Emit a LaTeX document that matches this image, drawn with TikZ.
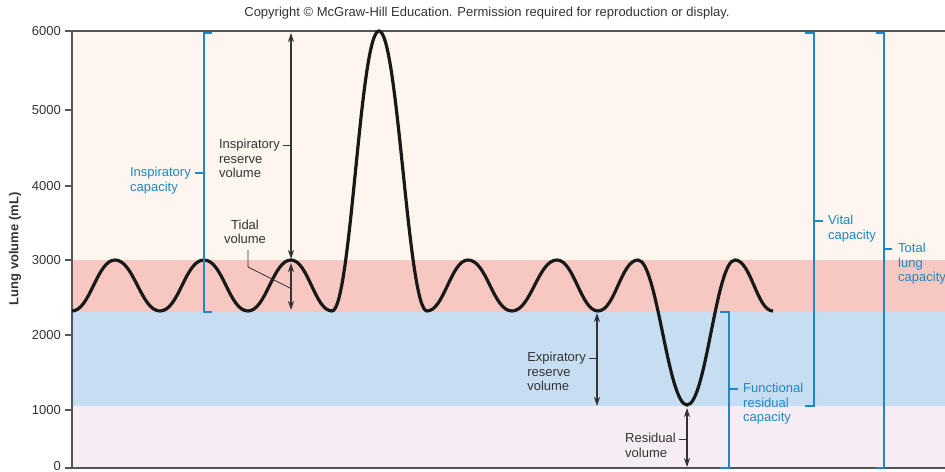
\documentclass[tikz,border=0pt]{standalone}
\usepackage{fontspec}
\setmainfont{Liberation Sans}
\usetikzlibrary{arrows.meta, positioning, calc}
\definecolor{capblue}{HTML}{1D87C7}
\definecolor{labgray}{HTML}{333333}
\definecolor{axisgray}{HTML}{555555}
\definecolor{bandtop}{HTML}{FDF6EE}
\definecolor{bandtidal}{HTML}{F6C8C1}
\definecolor{bandexp}{HTML}{C7DEF2}
\definecolor{bandres}{HTML}{F5EDF3}
\tikzset{bracket/.style={draw=capblue, line width=1.8bp}}

\begin{document}
\begin{tikzpicture}[x=1bp, y=-1bp, font=\fontsize{13bp}{14.5bp}\selectfont,
        curve/.style={line width=3.2bp, draw=black!90},
        axis/.style={draw=axisgray, line width=1.2bp},
        measure/.style={draw=labgray, line width=1.2bp, {Stealth[length=9bp,width=6bp]}-{Stealth[length=9bp,width=6bp]}},
        leader/.style={draw=labgray, line width=0.8bp},
        lab/.style={text=labgray, inner sep=0pt, align=left},
        caplab/.style={text=capblue, inner sep=0pt}]
    \useasboundingbox (0,0) rectangle (945,472);
    \clip (0,0) rectangle (945,472);
    \node[text=labgray, font=\fontsize{13bp}{15bp}\selectfont] (copy) at (487,13)
        {Copyright © McGraw-Hill Education. Permission required for reproduction or display.};
    % bands
    \fill[bandtop] (72,31) rectangle (945,260);
    \fill[bandtidal] (72,260) rectangle (945,312);
    \fill[bandexp] (72,312) rectangle (945,406);
    \fill[bandres] (72,406) rectangle (945,468);
    % axes
    \draw[axis] (945,31) -- (72,31) -- (72,468) -- (945,468);
    \foreach \v/\y in {1000/410, 2000/335, 3000/260, 4000/186, 5000/110, 6000/31} {
        \draw[axis] (65,\y) -- (72,\y);
        \node[text=labgray, anchor=east, inner sep=0pt] (t\v) at (61,\y) {\v};
    }
    \draw[axis] (65,468) -- (72,468);
    \node[text=labgray, anchor=east, inner sep=0pt] (t0) at (61,466) {0};
    \node[rotate=90, font=\fontsize{13bp}{15bp}\selectfont\bfseries, text=labgray] (ylab) at (15,249) {Lung volume (mL)};
    % spirogram
    \draw[curve] (72,311) .. controls +(18,0) and +(-18,0) .. (115,260)
        .. controls +(19,0) and +(-19,0) .. (160,311)
        .. controls +(19,0) and +(-19,0) .. (204,260)
        .. controls +(19,0) and +(-19,0) .. (248,311)
        .. controls +(18,0) and +(-18,0) .. (291,260)
        .. controls +(17,0) and +(-17,0) .. (332,311)
        .. controls +(19,0) and +(-19,0) .. (379,31)
        .. controls +(19,0) and +(-19,0) .. (427,311)
        .. controls +(17,0) and +(-17,0) .. (468,260)
        .. controls +(19,0) and +(-19,0) .. (512,311)
        .. controls +(19,0) and +(-19,0) .. (557,260)
        .. controls +(17,0) and +(-17,0) .. (598,311)
        .. controls +(17,0) and +(-17,0) .. (638,260)
        .. controls +(19,0) and +(-19,0) .. (687,405)
        .. controls +(19,0) and +(-19,0) .. (735,260)
        .. controls +(16,0) and +(-16,0) .. (773,311);
    % volumes
    \coordinate (irvtop) at (291,33);
    \coordinate (irvbot) at (291,259);
    \coordinate (tvtop) at (291,263);
    \coordinate (tvbot) at (291,310);
    \coordinate (ervtop) at (597,313);
    \coordinate (ervbot) at (597,406);
    \coordinate (rvtop) at (687,408);
    \coordinate (rvbot) at (687,467);
    \draw[measure] (irvtop) -- (irvbot);
    \draw[measure] (tvtop) -- (tvbot);
    \draw[measure] (ervtop) -- (ervbot);
    \draw[measure] (rvtop) -- (rvbot);
    \coordinate (irv) at (290,145);
    \coordinate[left=7bp of irv] (irvend);
    \node[lab, anchor=north east] (irvlab) at ($(irvend)+(-3,-6)$) {Inspiratory\\reserve\\volume};
    \draw[leader] (irv) -- (irvend);
    \node[lab, align=center] (tvlab) at (245,232) {Tidal\\volume};
    \coordinate (tvstart) at (248,250);
    \coordinate (tvbend) at (248,267);
    \coordinate (tvtip) at (290,288);
    \draw[leader] (tvstart) -- (tvbend) -- (tvtip);
    \coordinate (erv) at (596,358);
    \coordinate[left=7bp of erv] (ervend);
    \node[lab, anchor=north east] (ervlab) at ($(ervend)+(-3,-6)$) {Expiratory\\reserve\\volume};
    \draw[leader] (erv) -- (ervend);
    \coordinate (rv) at (686,439);
    \coordinate[left=7bp of rv] (rvend);
    \node[lab, anchor=north east] (rvlab) at ($(rvend)+(-3,-6)$) {Residual\\volume};
    \draw[leader] (rv) -- (rvend);
    % capacities
    \draw[bracket] (212,33) -- (204,33) -- (204,312) -- (212,312);
    \draw[bracket] (805,33) -- (814,33) -- (814,406) -- (805,406);
    \draw[bracket] (876,33) -- (884,33) -- (884,468) -- (876,468);
    \draw[bracket] (720,312) -- (729,312) -- (729,468) -- (720,468);
    \coordinate (ic) at (204,173);
    \coordinate[left=9bp of ic] (icend);
    \node[caplab, align=left, anchor=north east] (iclab) at ($(icend)+(-4,-6)$) {Inspiratory\\capacity};
    \draw[bracket] (ic) -- (icend);
    \coordinate (vc) at (814,221);
    \coordinate[right=9bp of vc] (vcend);
    \node[caplab, align=left, anchor=north west] (vclab) at ($(vcend)+(5,-6)$) {Vital\\capacity};
    \draw[bracket] (vc) -- (vcend);
    \coordinate (tlc) at (884,249);
    \coordinate[right=8bp of tlc] (tlcend);
    \node[caplab, align=left, anchor=north west] (tlclab) at ($(tlcend)+(6,-6)$) {Total\\lung\\capacity};
    \draw[bracket] (tlc) -- (tlcend);
    \coordinate (frc) at (729,389);
    \coordinate[right=9bp of frc] (frcend);
    \node[caplab, align=left, anchor=north west] (frclab) at ($(frcend)+(5,-6)$) {Functional\\residual\\capacity};
    \draw[bracket] (frc) -- (frcend);
\end{tikzpicture}
\end{document}
